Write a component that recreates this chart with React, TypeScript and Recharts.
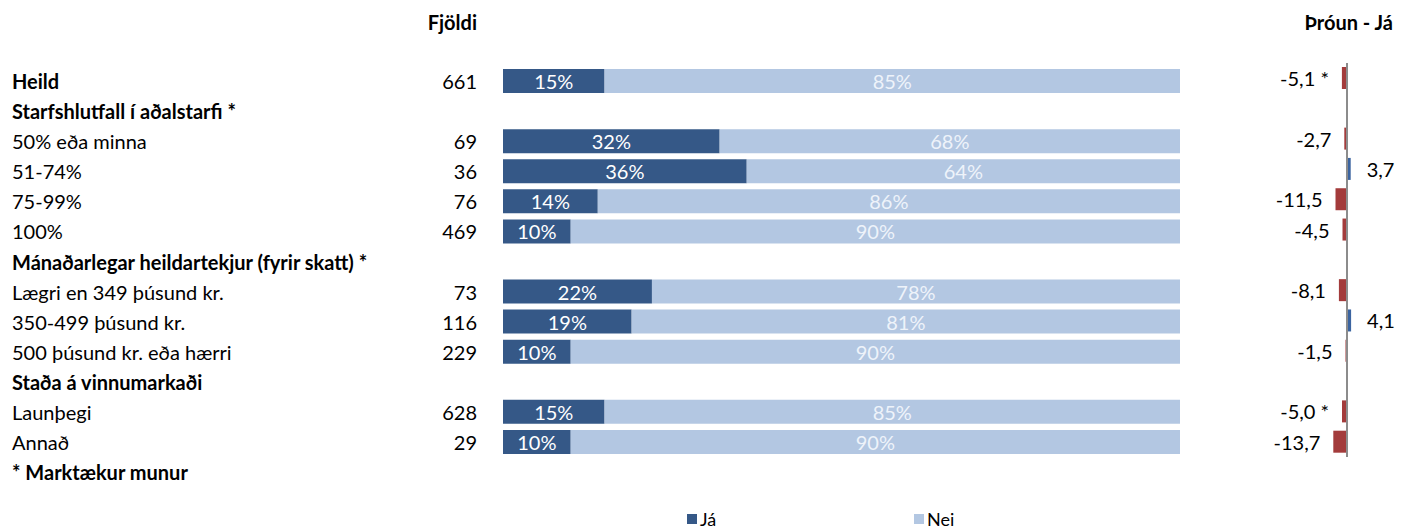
import { Bar, BarChart, Cell, LabelList, ReferenceLine, XAxis, YAxis } from "recharts";

const categories = [
  "Heild",
  "Starfshlutfall í aðalstarfi *",
  "50% eða minna",
  "51-74%",
  "75-99%",
  "100%",
  "Mánaðarlegar heildartekjur (fyrir skatt) *",
  "Lægri en 349 þúsund kr.",
  "350-499 þúsund kr.",
  "500 þúsund kr. eða hærri",
  "Staða á vinnumarkaði",
  "Launþegi",
  "Annað",
];
const boldRows = [true, true, false, false, false, false, true, false, false, false, true, false, false];
const counts = [661, null, 69, 36, 76, 469, null, 73, 116, 229, null, 628, 29];
const jaShare = [15, null, 32, 36, 14, 10, null, 22, 19, 10, null, 15, 10];
const neiShare = [85, null, 68, 64, 86, 90, null, 78, 81, 90, null, 85, 90];
const trend = [-5.1, null, -2.7, 3.7, -11.5, -4.5, null, -8.1, 4.1, -1.5, null, -5.0, -13.7];
const trendSignificant = [true, false, false, false, false, false, false, false, false, false, false, true, false];

const rows = categories.map((name, i) => ({
  name,
  bold: boldRows[i],
  count: counts[i],
  ja: jaShare[i],
  nei: neiShare[i],
  trend: trend[i],
  trendText:
    trend[i] == null ? null : (trend[i] as number).toFixed(1).replace(".", ",") + (trendSignificant[i] ? " *" : ""),
}));

const FONT = "Lato, 'Noto Sans', sans-serif";
const FS = 20;
const JA = "#355887";
const NEI = "#b3c7e2";
const NEG = "#a33b3b";
const POS = "#3b64a0";

function RowTick(props: any) {
  const { y, payload } = props;
  const row = rows[payload.index];
  return (
    <g>
      <text x={12} y={y + 8} fontSize={FS} fontWeight={row.bold ? 700 : 400} fill="#000" fontFamily={FONT}>
        {row.name}
      </text>
      {row.count != null && (
        <text x={477} y={y + 8} fontSize={FS} textAnchor="end" fill="#000" fontFamily={FONT}>
          {row.count}
        </text>
      )}
    </g>
  );
}

function pctLabel(color: string) {
  return (props: any) => {
    const { x, y, width, height, value } = props;
    if (value == null) return null;
    return (
      <text x={x + width / 2} y={y + height / 2 + 8} fill={color} fontSize={FS} textAnchor="middle" fontFamily={FONT}>
        {value}%
      </text>
    );
  };
}

function TrendLabel(props: any) {
  const { x, y, width, height, value } = props;
  if (value == null) return null;
  const left = Math.min(x, x + width);
  const right = Math.max(x, x + width);
  const neg = String(value).startsWith("-");
  return (
    <text
      x={neg ? left - 13 : right + 16}
      y={y + height / 2 + 8}
      fontSize={FS}
      textAnchor={neg ? "end" : "start"}
      fill="#000"
      fontFamily={FONT}
    >
      {value}
    </text>
  );
}

export default function App() {
  return (
    <div style={{ position: "fixed", left: 0, top: 0, width: 1413, height: 529, background: "#fff", fontFamily: FONT, overflow: "hidden" }}>
      <div style={{ position: "absolute", left: 0, top: 0 }}>
        <BarChart width={1413} height={529} data={rows} layout="vertical" margin={{ top: 66, right: 233, bottom: 72, left: 0 }}>
          <XAxis type="number" domain={[0, 100]} hide />
          <YAxis type="category" dataKey="name" width={503} axisLine={false} tickLine={false} tick={<RowTick />} interval={0} />
          <Bar dataKey="ja" name="Já" stackId="s" fill={JA} barSize={24} isAnimationActive={false}>
            <LabelList dataKey="ja" content={pctLabel("#ffffff")} />
          </Bar>
          <Bar dataKey="nei" name="Nei" stackId="s" fill={NEI} barSize={24} isAnimationActive={false}>
            <LabelList dataKey="nei" content={pctLabel("#eef3fa")} />
          </Bar>
        </BarChart>
      </div>

      <div style={{ position: "absolute", left: 1240, top: 0 }}>
        <BarChart width={173} height={529} data={rows} layout="vertical" margin={{ top: 63, right: 0, bottom: 72, left: 0 }}>
          <XAxis type="number" domain={[-107, 66]} hide />
          <YAxis type="category" dataKey="name" hide />
          <Bar dataKey="trend" barSize={22} isAnimationActive={false}>
            {rows.map((r, i) => (
              <Cell key={i} fill={(r.trend ?? 0) < 0 ? NEG : POS} />
            ))}
            <LabelList dataKey="trendText" content={TrendLabel} />
          </Bar>
          <ReferenceLine x={0} stroke="#8c8c8c" strokeWidth={2} />
        </BarChart>
      </div>

      <svg width={1413} height={529} style={{ position: "absolute", left: 0, top: 0, pointerEvents: "none" }} fontFamily={FONT}>
        <text x={477} y={30} textAnchor="end" fontSize={FS} fontWeight={700}>Fjöldi</text>
        <text x={1393} y={30} textAnchor="end" fontSize={FS} fontWeight={700}>Þróun - Já</text>
        <text x={12} y={480} fontSize={FS} fontWeight={700}>* Marktækur munur</text>
        <rect x={687} y={514} width={10} height={10} fill={JA} />
        <text x={700} y={526} fontSize={18}>Já</text>
        <rect x={914} y={514} width={10} height={10} fill={NEI} />
        <text x={927} y={526} fontSize={18}>Nei</text>
      </svg>
    </div>
  );
}
